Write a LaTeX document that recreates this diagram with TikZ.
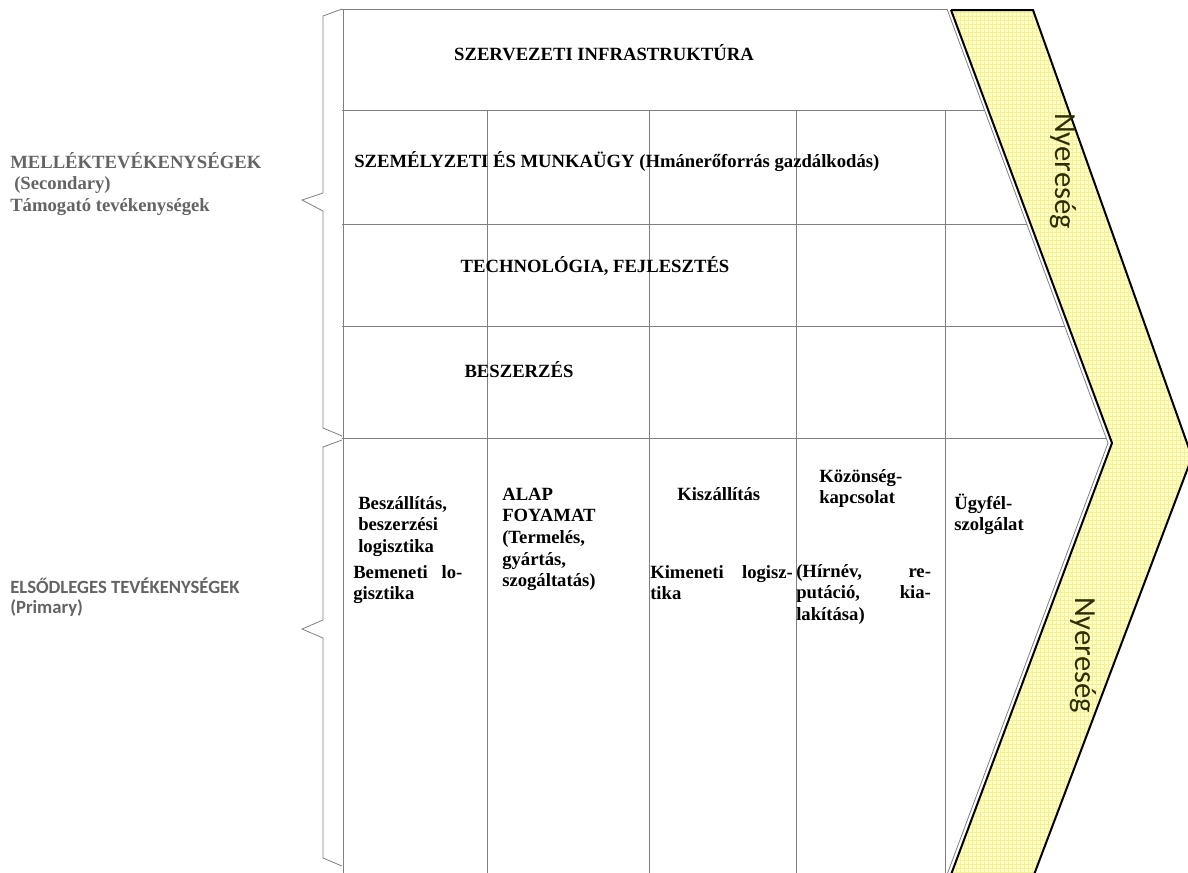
\documentclass[tikz,border=0pt]{standalone}
\usepackage{fontspec}
\setmainfont{Liberation Serif}
\newfontfamily\calibrifont{Carlito}
\usepackage{xcolor}
\usetikzlibrary{patterns}

\definecolor{bandfill}{RGB}{255,255,200}
\definecolor{bandgrid}{RGB}{245,240,150}
\definecolor{rulegray}{RGB}{128,128,128}
\definecolor{labelgray}{RGB}{100,100,100}
\definecolor{nyertext}{RGB}{45,45,0}

% first line strut, and a stretched (justified) line
\newcommand{\firstline}{\rule{0pt}{13.5pt}}
\newcommand{\just}[2]{\makebox[#1pt][s]{#2}}

\begin{document}
\begin{tikzpicture}[x=0.75pt, y=-0.75pt]
		\tikzstyle{rule} = [draw=rulegray, line width=0.6pt]
		\tikzstyle{edge} = [draw=black, line width=1.5pt, line join=miter]
		\tikzstyle{cell} = [inner sep=0, align=left, anchor=north west, font=\bfseries\fontsize{14}{16.2}\selectfont]
		\tikzstyle{title} = [inner sep=0, anchor=base, font=\bfseries\fontsize{14}{16.2}\selectfont]
		\tikzstyle{side} = [inner sep=0, align=left, anchor=north west, text=labelgray]
		\tikzstyle{profit} = [inner sep=0, rotate=-90, text=nyertext, font=\calibrifont\fontsize{23}{23}\selectfont]
		
		\useasboundingbox (0,0) rectangle (1188,872);
		\fill[white] (0,0) rectangle (1188,872);
		\clip (0,0) rectangle (1188,872);
		
		% profit band
		\fill[bandfill] (951,10) -- (1033,10) -- (1192,457) -- (1032,880) -- (949,880) -- (1112,443) -- cycle;
		\fill[pattern=grid, pattern color=bandgrid] (951,10) -- (1033,10) -- (1192,457) -- (1032,880) -- (949,880) -- (1112,443) -- cycle;
		\draw[edge] (951,10) -- (1033,10) -- (1192,457) -- (1032,880);
		\draw[edge] (951,10) -- (1112,443) -- (949,880);
		\draw[rule] (947,9) -- (1108,443) -- (945,880);
		
		% table
		\draw[rule] (342,9) -- (947,9);
		\draw[rule] (343,9) -- (343,880);
		\foreach \y in {110,224,326,438}
		\draw[rule] (342,\y) -- ({947+(\y-9)*0.371},\y);
		\foreach \x in {487,649,796,945}
		\draw[rule] (\x,110) -- (\x,880);
		
		% braces
		\draw[rule] (342,9) -- (323,16) -- (323,193) -- (302,200) -- (323,211) -- (323,428) -- (342,436);
		\draw[rule] (342,440) -- (323,447) -- (323,620) -- (302,629) -- (323,638) -- (323,858) -- (342,866);
		
		% side labels
		\node[side, font=\bfseries\fontsize{14}{16.2}\selectfont] at (10,150) (secondary)
		{\firstline MELLÉKTEVÉKENYSÉGEK\\\hspace{3pt}(Secondary)\\Támogató tevékenységek};
		\node[side, font=\calibrifont\bfseries\fontsize{14}{15}\selectfont] at (10,575) (primary)
		{\firstline ELSŐDLEGES TEVÉKENYSÉGEK\\(Primary)};
		
		% support activities
		\node[title] at (604,60) (infra) {SZERVEZETI INFRASTRUKTÚRA};
		\node[title, anchor=base west] at (354,167) (hr) {SZEMÉLYZETI ÉS MUNKAÜGY (Hmánerőforrás gazdálkodás)};
		\node[title] at (595,272) (tech) {TECHNOLÓGIA, FEJLESZTÉS};
		\node[title] at (519,377) (procure) {BESZERZÉS};
		
		% primary activities
		\node[cell] at (358,491) (inbounda) {\firstline Beszállítás,\\beszerzési\\logisztika};
		\node[cell] at (353,560) (inboundb) {\firstline\just{81.8}{Bemeneti lo-}\\gisztika};
		\node[cell] at (502,482) (operations) {\firstline ALAP\\FOYAMAT\\(Termelés,\\gyártás,\\szogáltatás)};
		\node[title, anchor=base west] at (677,500) (outbounda) {Kiszállítás};
		\node[cell] at (650,560) (outboundb) {\firstline\just{107}{Kimeneti logisz-}\\tika};
		\node[cell] at (819,464) (marketinga) {\firstline Közönség-\\kapcsolat};
		\node[cell] at (796,559) (marketingb) {\firstline\just{101}{(Hírnév, re-}\\\just{101}{putáció, kia-}\\lakítása)};
		\node[cell] at (954,491) (service) {\firstline Ügyfél-\\szolgálat};
		
		% profit labels
		\node[profit] at (1063,171) (profittop) {Nyereség};
		\node[profit] at (1083,655) (profitbottom) {Nyereség};
\end{tikzpicture}
\end{document}
